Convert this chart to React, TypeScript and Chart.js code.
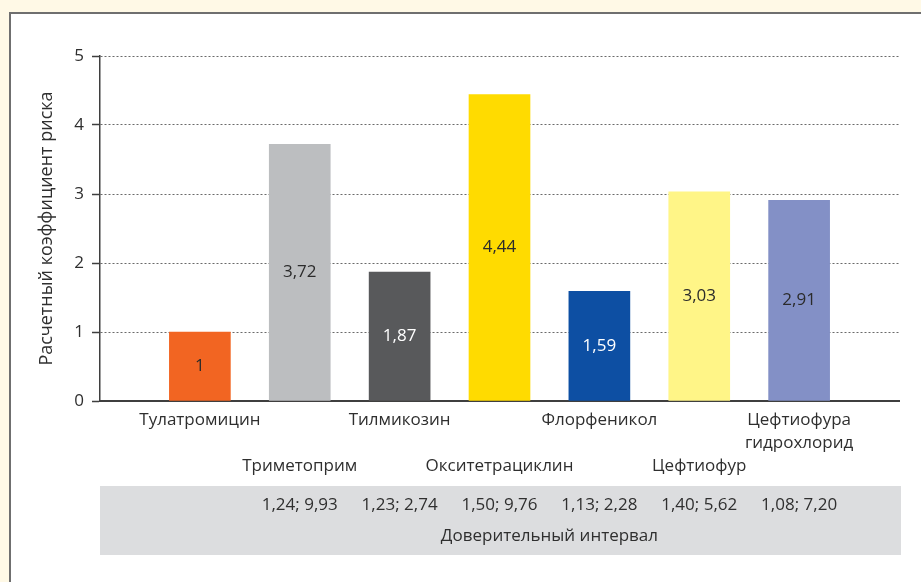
import React, { useEffect, useRef } from 'react';
import { Chart, registerables } from 'chart.js';

Chart.register(...registerables);

const categoryLines: string[][] = [
  ['Тулатромицин'],
  ['Триметоприм'],
  ['Тилмикозин'],
  ['Окситетрациклин'],
  ['Флорфеникол'],
  ['Цефтиофур'],
  ['Цефтиофура', 'гидрохлорид'],
];
const riskValues = [1, 3.72, 1.87, 4.44, 1.59, 3.03, 2.91];
const valueLabels = ['1', '3,72', '1,87', '4,44', '1,59', '3,03', '2,91'];
const ciLabels = ['', '1,24; 9,93', '1,23; 2,74', '1,50; 9,76', '1,13; 2,28', '1,40; 5,62', '1,08; 7,20'];
const barColors = ['#F26522', '#BCBEC0', '#58595B', '#FFDB00', '#0D4FA3', '#FFF587', '#8390C6'];
const valueLabelColors = ['#2b2b2b', '#2b2b2b', '#ffffff', '#2b2b2b', '#ffffff', '#2b2b2b', '#2b2b2b'];
const yTitle = 'Расчетный коэффициент риска';
const ciTitle = 'Доверительный интервал';
const yMin = 0;
const yMax = 5;
const yStep = 1;

const FONT = '"Open Sans", "Noto Sans", sans-serif';
const TEXT = '#2f2f2f';

export default function App() {
  const ref = useRef<HTMLCanvasElement | null>(null);

  useEffect(() => {
    if (!ref.current) return;
    const labels = ['', ...categoryLines.map((l) => l.join(' ')), ''];
    const data = [null, ...riskValues, null];
    const ciAxisLabels = ['', ...ciLabels, ''];

    const ciBox = {
      id: 'ciBox',
      beforeDraw(chart: any) {
        const s = chart.scales.x2;
        const ctx = chart.ctx;
        ctx.save();
        ctx.fillStyle = '#DCDDDF';
        ctx.fillRect(s.left, s.top, s.right - s.left + 2, s.bottom - s.top);
        ctx.restore();
      },
      afterDraw(chart: any) {
        const s = chart.scales.x2;
        const ctx = chart.ctx;
        const firstIdx = ciAxisLabels.findIndex((t) => t !== '');
        let lastIdx = firstIdx;
        ciAxisLabels.forEach((t, i) => {
          if (t !== '') lastIdx = i;
        });
        const cx = (s.getPixelForTick(firstIdx) + s.getPixelForTick(lastIdx)) / 2;
        ctx.save();
        ctx.font = `17px ${FONT}`;
        ctx.fillStyle = TEXT;
        ctx.textAlign = 'center';
        ctx.textBaseline = 'middle';
        ctx.fillText(ciTitle, cx, s.bottom - 19);
        ctx.restore();
      },
    };

    const valueText = {
      id: 'valueText',
      afterDatasetsDraw(chart: any) {
        const ctx = chart.ctx;
        const meta = chart.getDatasetMeta(0);
        ctx.save();
        ctx.font = `17px ${FONT}`;
        ctx.textAlign = 'center';
        ctx.textBaseline = 'middle';
        meta.data.forEach((el: any, i: number) => {
          const k = i - 1;
          if (k < 0 || k >= riskValues.length) return;
          ctx.fillStyle = valueLabelColors[k];
          ctx.fillText(valueLabels[k], el.x, (el.y + el.base) / 2);
        });
        ctx.restore();
      },
    };

    const chart = new Chart(ref.current, {
      type: 'bar',
      data: {
        labels,
        datasets: [
          {
            data,
            backgroundColor: ['transparent', ...barColors, 'transparent'],
            borderWidth: 0,
            barThickness: 61,
          },
        ],
      },
      options: {
        animation: false,
        responsive: false,
        devicePixelRatio: 1,
        layout: { padding: { left: 0, top: 56, right: 22, bottom: 27 } },
        plugins: {
          legend: { display: false },
          tooltip: { enabled: false },
        },
        scales: {
          x: {
            type: 'category',
            offset: false,
            weight: 0,
            grid: { display: false, drawTicks: false, tickLength: 0 },
            border: { display: true, color: '#3f3f3f', width: 2 },
            ticks: {
              autoSkip: false,
              maxRotation: 0,
              minRotation: 0,
              padding: 7,
              color: TEXT,
              font: { family: FONT, size: 17, lineHeight: 1.38 },
              callback: (_v: any, index: number) => {
                const k = index - 1;
                if (k < 0 || k >= categoryLines.length) return '';
                const lines = categoryLines[k];
                return k % 2 === 0 ? lines : ['', '', ...lines];
              },
            },
            afterFit: (s: any) => {
              s.height = 85;
            },
          },
          x2: {
            type: 'category',
            position: 'bottom',
            labels: ciAxisLabels,
            offset: false,
            weight: 1,
            grid: { display: false, drawTicks: false, tickLength: 0 },
            border: { display: false },
            ticks: {
              autoSkip: false,
              maxRotation: 0,
              minRotation: 0,
              padding: 9,
              color: TEXT,
              font: { family: FONT, size: 17 },
            },
            afterFit: (s: any) => {
              s.height = 69;
            },
          },
          y: {
            min: yMin,
            max: yMax,
            ticks: {
              stepSize: yStep,
              padding: 8,
              color: TEXT,
              font: { family: FONT, size: 17 },
            },
            grid: {
              color: '#6a6a6a',
              lineWidth: 1,
              tickLength: 8,
              tickColor: '#3f3f3f',
              tickWidth: 1.5,
              tickBorderDash: [],
            },
            border: { display: true, color: '#3f3f3f', width: 1.5, dash: [2, 2] },
            title: {
              display: true,
              text: yTitle,
              color: TEXT,
              font: { family: FONT, size: 18 },
              padding: { top: 36, bottom: 0 },
            },
            afterFit: (s: any) => {
              s.width = 100;
            },
          },
        },
      },
      plugins: [ciBox, valueText],
    } as any);

    return () => chart.destroy();
  }, []);

  return (
    <div
      style={{
        position: 'fixed',
        left: 0,
        top: 0,
        width: 921,
        height: 582,
        overflow: 'hidden',
        background: '#FFF9E6',
      }}
    >
      <div
        style={{
          position: 'absolute',
          left: 9,
          top: 12,
          width: 1000,
          height: 1000,
          background: '#ffffff',
          borderLeft: '2px solid #6f6f6f',
          borderTop: '2px solid #6f6f6f',
        }}
      />
      <canvas
        ref={ref}
        width={921}
        height={582}
        style={{ position: 'absolute', left: 0, top: 0, width: 921, height: 582 }}
      />
    </div>
  );
}
